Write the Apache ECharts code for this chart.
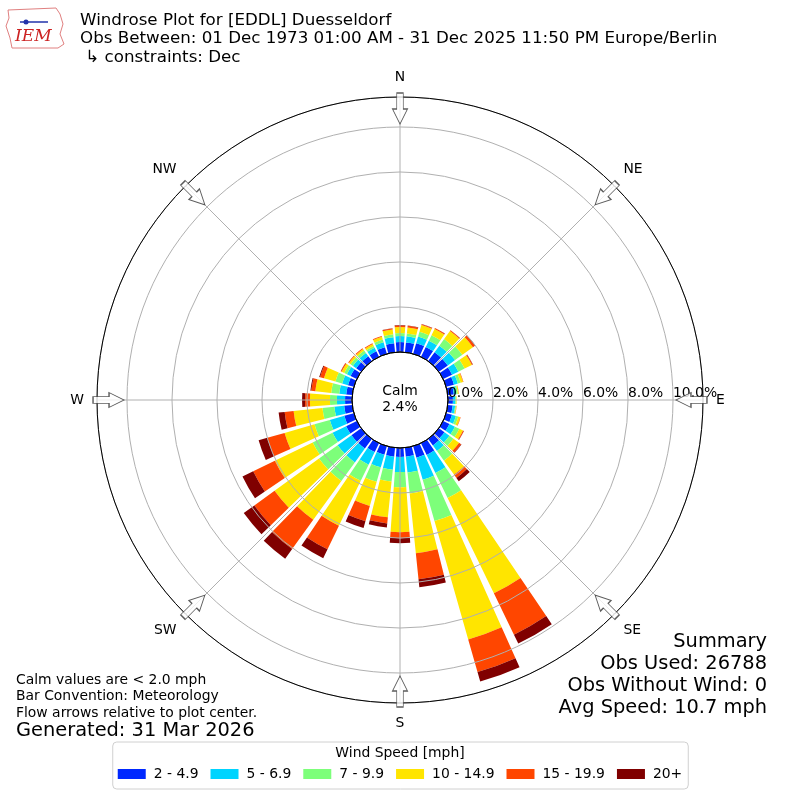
<!DOCTYPE html>
<html>
<head>
<meta charset="utf-8">
<script src="https://cdn.jsdelivr.net/npm/echarts@6/dist/echarts.min.js"></script>
<style>html,body{margin:0;padding:0;background:#fff}#c{width:800px;height:800px}</style>
</head>
<body>
<div id="c"></div>
<script>
// ---- data ----
const directions = ['0','10','20','30','40','50','60','70','80','90','100','110','120','130','140','150','160','170',
  '180','190','200','210','220','230','240','250','260','270','280','290','300','310','320','330','340','350'];
const speedBins = ['2 - 4.9','5 - 6.9','7 - 9.9','10 - 14.9','15 - 19.9','20+'];
const binColors = ['#0028ff','#00d4ff','#7dff7a','#ffe500','#ff4600','#800000'];
const s2to5   = [0.44,0.44,0.49,0.49,0.49,0.49,0.44,0.36,0.27,0.22,0.22,0.27,0.31,0.31,0.36,0.58,0.53,0.40,0.40,0.40,0.40,0.44,0.53,0.53,0.53,0.44,0.36,0.31,0.27,0.27,0.31,0.27,0.27,0.27,0.31,0.40];
const s5to7   = [0.27,0.27,0.31,0.31,0.36,0.40,0.31,0.18,0.11,0.11,0.11,0.18,0.27,0.27,0.31,0.89,1.02,0.71,0.67,0.58,0.58,0.62,0.76,0.76,0.67,0.67,0.44,0.36,0.31,0.27,0.18,0.18,0.18,0.18,0.22,0.27];
const s7to10  = [0.13,0.13,0.22,0.27,0.36,0.40,0.31,0.13,0.07,0.04,0.04,0.11,0.22,0.22,0.53,1.24,1.91,0.93,0.67,0.53,0.67,0.80,1.02,1.02,0.98,0.71,0.53,0.31,0.36,0.31,0.13,0.13,0.13,0.09,0.13,0.13];
const s10to15 = [0.27,0.27,0.31,0.31,0.44,0.58,0.36,0.11,0.04,0.02,0.02,0.09,0.18,0.31,0.76,4.71,5.47,2.67,2.00,1.60,1.11,2.22,2.13,2.44,1.87,1.38,1.29,0.89,0.71,0.53,0.13,0.09,0.09,0.09,0.13,0.22];
const s15to20 = [0.07,0.07,0.04,0.04,0.04,0.11,0.04,0.02,0.01,0.00,0.01,0.02,0.04,0.11,0.18,2.04,1.51,1.16,0.27,0.27,0.71,1.16,1.60,1.11,1.07,0.80,0.40,0.22,0.18,0.18,0.04,0.04,0.04,0.04,0.04,0.04];
const s20plus = [0.02,0.02,0.01,0.01,0.01,0.02,0.01,0.00,0.00,0.00,0.00,0.00,0.01,0.02,0.18,0.44,0.44,0.36,0.22,0.18,0.31,0.44,0.53,0.58,0.53,0.40,0.27,0.13,0.04,0.04,0.01,0.00,0.00,0.00,0.00,0.01];
const compassLabels = ['N','NE','E','SE','S','SW','W','NW'];
const compassAngles = [0,45,90,135,180,225,270,315];
const radialTicks = [0,2,4,6,8,10];
const calmPct = '2.4%';
const summaryLines = ['Summary','Obs Used: 26788','Obs Without Wind: 0','Avg Speed: 10.7 mph'];

// ---- layout ----
const FONT = 'DejaVu Sans';
const CENTER = [400, 400];
const R_IN = 48, R_OUT = 303;
const R_MAX = 11.333;
const ARROW_R = 10.82;
const SMALL = 13.9;
const series = [s2to5, s5to7, s7to10, s10to15, s15to20, s20plus];

const chart = echarts.init(document.getElementById('c'), null, {renderer: 'canvas'});
const hidden = {show: false};
const option = {
  animation: false,
  backgroundColor: '#fff',
  polar: [
    {center: CENTER, radius: [R_IN, R_OUT]},
    {center: CENTER, radius: [R_IN, R_OUT]},
    {center: CENTER, radius: [R_IN, R_OUT]},
    {center: CENTER, radius: [0, R_IN]}
  ],
  angleAxis: [
    {polarIndex: 0, type: 'category', data: directions, startAngle: 95, clockwise: true,
     axisLine: hidden, axisTick: hidden, axisLabel: hidden, splitLine: hidden},
    {polarIndex: 1, type: 'value', min: 0, max: 360, interval: 45, startAngle: 90, clockwise: true, z: 5,
     axisLine: {show: true, lineStyle: {color: '#000', width: 1}},
     axisTick: hidden,
     splitLine: {show: true, lineStyle: {color: '#b0b0b0', width: 1}},
     axisLabel: {show: true, margin: 13, fontFamily: FONT, fontSize: SMALL, color: '#000',
       formatter: v => (v >= 360 ? '' : compassLabels[compassAngles.indexOf(v)] || '')}},
    {polarIndex: 2, type: 'value', min: 0, max: 360, startAngle: 0, clockwise: true,
     axisLine: hidden, axisTick: hidden, axisLabel: hidden, splitLine: hidden},
    {polarIndex: 3, type: 'value', min: 0, max: 360, startAngle: 90, z: 5,
     axisLine: {show: true, lineStyle: {color: '#000', width: 1}},
     axisTick: hidden, axisLabel: hidden, splitLine: hidden}
  ],
  radiusAxis: [
    {polarIndex: 0, type: 'value', min: 0, max: R_MAX, axisLine: hidden, axisTick: hidden, axisLabel: hidden, splitLine: hidden},
    {polarIndex: 1, type: 'value', min: 0, max: R_MAX, interval: 2, z: 5, axisLine: hidden, axisTick: hidden, axisLabel: hidden,
     splitLine: {show: true, lineStyle: {color: '#b0b0b0', width: 1}}},
    {polarIndex: 2, type: 'value', min: 0, max: R_MAX, interval: 2, z: 5, axisLine: hidden, axisTick: hidden, splitLine: hidden,
     axisLabel: {show: true, margin: 0, align: 'left', verticalAlign: 'bottom', fontFamily: FONT, fontSize: SMALL, color: '#000',
       showMaxLabel: false,
       formatter: v => (radialTicks.some(t => Math.abs(t - v) < 1e-6) ? v.toFixed(1) + '%' : '')}},
    {polarIndex: 3, type: 'value', min: 0, max: 1, axisLine: hidden, axisTick: hidden, axisLabel: hidden, splitLine: hidden}
  ],
  legend: {
    data: speedBins, left: 'center', top: 742, orient: 'horizontal',
    icon: 'rect', itemWidth: 28, itemHeight: 10, itemGap: 12,
    padding: [25, 6, 8, 5],
    borderColor: '#d0d0d0', borderWidth: 1, borderRadius: 4,
    textStyle: {fontFamily: FONT, fontSize: SMALL, color: '#000', padding: [0, 0, 0, 3]}
  },
  series: speedBins.map((name, i) => ({
    name, type: 'bar', coordinateSystem: 'polar', polarIndex: 0, stack: 'wind',
    barCategoryGap: '18%', data: series[i], itemStyle: {color: binColors[i]}, z: 2
  })).concat([{
    type: 'scatter', coordinateSystem: 'polar', polarIndex: 1, z: 8, silent: true,
    symbol: 'path://M8,0 L16,15 L11.5,15 L11.5,31 L4.5,31 L4.5,15 L0,15 Z',
    symbolSize: [15, 31], symbolKeepAspect: false,
    itemStyle: {color: '#fff', borderColor: '#333', borderWidth: 1},
    data: compassAngles.map(a => ({value: [ARROW_R, a], symbolRotate: 180 - a}))
  }]),
  graphic: [
    {type: 'text', left: 80, top: 11, style: {text: 'Windrose Plot for [EDDL] Duesseldorf\nObs Between: 01 Dec 1973 01:00 AM - 31 Dec 2025 11:50 PM Europe/Berlin\n \u21B3 constraints: Dec',
      font: '16.7px "DejaVu Sans"', lineHeight: 18.5, fill: '#000'}},
    {type: 'text', x: 400, y: 399, style: {text: 'Calm\n' + calmPct, font: SMALL + 'px "DejaVu Sans"', lineHeight: 16,
      textAlign: 'center', textVerticalAlign: 'middle', fill: '#000'}, z: 10},
    {type: 'text', left: 16, top: 672, style: {text: 'Calm values are < 2.0 mph\nBar Convention: Meteorology\nFlow arrows relative to plot center.',
      font: SMALL + 'px "DejaVu Sans"', lineHeight: 16.5, fill: '#000'}},
    {type: 'text', left: 16, top: 721, style: {text: 'Generated: 31 Mar 2026', font: '19.4px "DejaVu Sans"', fill: '#000'}},
    {type: 'text', x: 767, y: 631, style: {text: summaryLines.join('\n'), font: '19.4px "DejaVu Sans"', lineHeight: 22,
      textAlign: 'right', textVerticalAlign: 'top', fill: '#000'}},
    {type: 'text', x: 400, y: 753, style: {text: 'Wind Speed [mph]', font: SMALL + 'px "DejaVu Sans"', textAlign: 'center', textVerticalAlign: 'middle', fill: '#000'}, z: 10},
    {type: 'polyline', shape: {points: [[8,10],[56,8],[60,14],[63,24],[60,34],[64,44],[58,48],[12,48],[10,38],[6,26],[9,18],[8,10]]},
      style: {stroke: '#e08080', fill: 'none', lineWidth: 1}},
    {type: 'text', left: 15, top: 28, style: {text: 'IEM', font: 'italic 17px "DejaVu Serif"', fill: '#cc2222'}},
    {type: 'polyline', shape: {points: [[20,22],[48,22]]}, style: {stroke: '#2233aa', lineWidth: 1.5}},
    {type: 'circle', shape: {cx: 26, cy: 22, r: 2.5}, style: {fill: '#2233aa'}}
  ]
};
chart.setOption(option);
</script>
</body>
</html>
